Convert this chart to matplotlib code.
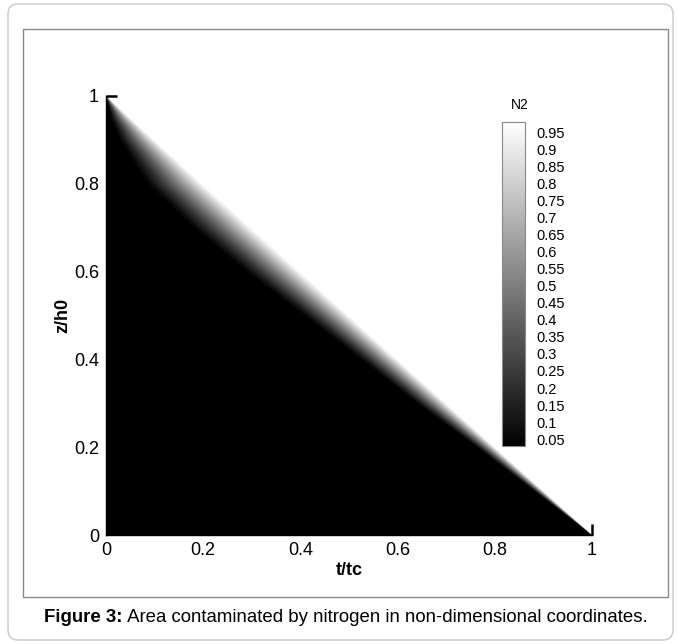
import numpy as np
import matplotlib
matplotlib.use("Agg")
import matplotlib.pyplot as plt
from matplotlib.patches import Rectangle, FancyBboxPatch
from matplotlib.transforms import IdentityTransform
from matplotlib.colors import Normalize

plt.rcParams['font.family'] = ['Liberation Sans', 'DejaVu Sans']

# front: the white edge is the line z = 1 - t,
# the black edge (N2 ~ 0) sits at t_black for each height z
z_rows = [0.0, 0.125, 0.2, 0.3, 0.42, 0.5, 0.6, 0.7, 0.8, 0.9, 0.95, 1.0]
t_black = [1.0, 0.85, 0.76, 0.635, 0.495, 0.40, 0.28, 0.17, 0.075, 0.022, 0.006, 0.0]

cbar_ticks = [0.05, 0.1, 0.15, 0.2, 0.25, 0.3, 0.35, 0.4, 0.45, 0.5,
              0.55, 0.6, 0.65, 0.7, 0.75, 0.8, 0.85, 0.9, 0.95]
x_ticks = [0, 0.2, 0.4, 0.6, 0.8, 1]
y_ticks = [0, 0.2, 0.4, 0.6, 0.8, 1]

caption_bold = "Figure 3:"
caption_rest = " Area contaminated by nitrogen in non-dimensional coordinates."


def build_field(n=700):
    t = np.linspace(0, 1, n)
    z = np.linspace(0, 1, n)
    T, Z = np.meshgrid(t, z)
    tb = np.interp(Z, z_rows, t_black)
    tw = 1.0 - Z
    span = np.maximum(tw - tb, 1e-6)
    f = np.clip((T - tb) / span, 0, 1)
    return f ** 1.3


W, H = 677, 644
fig = plt.figure(figsize=(W / 100, H / 100), dpi=100)

# page frames
fig.patches.append(FancyBboxPatch((8, 4), 665, 636, boxstyle="round,pad=0,rounding_size=10",
                                  transform=IdentityTransform(), fill=False,
                                  edgecolor="#c8c8c8", linewidth=1.0))
fig.patches.append(Rectangle((23, H - 597), 645, 568, transform=IdentityTransform(),
                             fill=False, edgecolor="#8a8a8a", linewidth=1.0))

ax = fig.add_axes([106 / W, 1 - 535 / H, 486 / W, 439 / H])
norm = Normalize(vmin=0.03, vmax=0.98)
im = ax.imshow(build_field(), extent=[0, 1, 0, 1], origin="lower", cmap="gray",
               norm=norm, aspect="auto", interpolation="bilinear")
ax.set_xlim(0, 1)
ax.set_ylim(0, 1)
for s in ["top", "right"]:
    ax.spines[s].set_visible(False)
for s in ["left", "bottom"]:
    ax.spines[s].set_linewidth(1.0)
ax.set_xticks(x_ticks)
ax.set_yticks(y_ticks)
ax.set_xticklabels(["%g" % v for v in x_ticks])
ax.set_yticklabels(["%g" % v for v in y_ticks])
ax.tick_params(direction="in", length=8, width=1.8, labelsize=13, pad=5)
# the corner ticks would stick out over the white margin
ax.xaxis.get_major_ticks()[0].tick1line.set_visible(False)
ax.yaxis.get_major_ticks()[0].tick1line.set_visible(False)
ax.set_xlabel("t/tc", fontsize=13, fontweight="bold", labelpad=2)
ax.set_ylabel("z/h0", fontsize=13, fontweight="bold", labelpad=2)

cax = fig.add_axes([502 / W, 1 - 446 / H, 23 / W, 324 / H])
cb = fig.colorbar(im, cax=cax, ticks=cbar_ticks)
cb.ax.set_yticklabels(["%g" % v for v in cbar_ticks])
cb.ax.tick_params(length=0, labelsize=10.5, pad=8)
cb.outline.set_edgecolor("#888888")
cb.outline.set_linewidth(0.8)
fig.text(520 / W, 1 - 105 / H, "N2", ha="center", va="center", fontsize=10)

# caption with bold lead
renderer = fig.canvas.get_renderer()
tb_ = fig.text(0, 1 - 617 / H, caption_bold, fontsize=13.4, fontweight="bold", va="center")
tr_ = fig.text(0, 1 - 617 / H, caption_rest, fontsize=13.4, va="center")
wb = tb_.get_window_extent(renderer).width
wr = tr_.get_window_extent(renderer).width
x0 = 346 - (wb + wr) / 2
tb_.set_x(x0 / W)
tr_.set_x((x0 + wb) / W)

fig.savefig("out.png", dpi=100)
